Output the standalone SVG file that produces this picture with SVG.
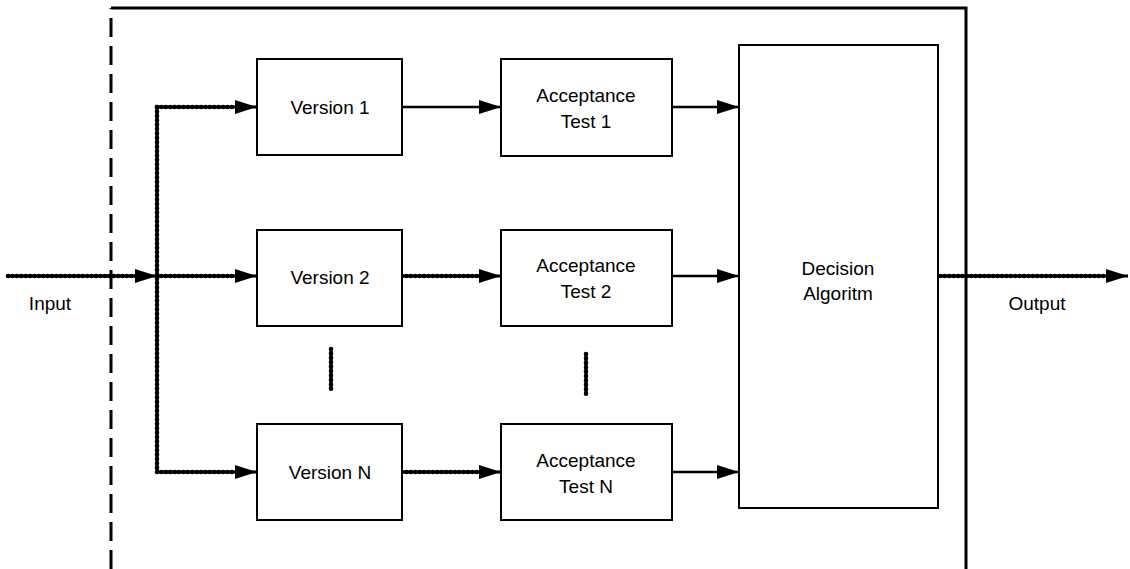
<svg xmlns="http://www.w3.org/2000/svg" xmlns:xlink="http://www.w3.org/1999/xlink" width="1130" height="569" viewBox="0 0 1130 569">
  <style>
    .box { fill: #fff; stroke: #000; stroke-width: 2; }
    .lbl { font-family: "Liberation Sans", Arial, sans-serif; font-size: 19px; fill: #000; text-anchor: middle; }
    .solid { fill: none; stroke: #000; stroke-width: 2.5; }
    .core { fill: none; stroke: #000; stroke-width: 3; }
    .beads { fill: none; stroke: #000; stroke-width: 4.6; stroke-linecap: round; stroke-dasharray: 0.1 4.3; }
    .frame { fill: none; stroke: #000; stroke-width: 3; }
  </style>
  <defs>
    <marker id="arrow" markerUnits="userSpaceOnUse" markerWidth="22" markerHeight="14" refX="22" refY="7" orient="auto">
      <path d="M0,0 L22,7 L0,14 Z" fill="#000"/>
    </marker>
    <!-- dotted routes, drawn twice: a thin core line and a bead overlay -->
    <path id="inLine" d="M8,276 H157"/>
    <path id="split" d="M157,107 V472"/>
    <path id="toV1" d="M157,107 H257"/>
    <path id="toV2" d="M157,276 H257"/>
    <path id="toVN" d="M157,472 H257"/>
    <path id="v2a2" d="M402,276 H501"/>
    <path id="vNaN" d="M402,472 H501"/>
    <path id="outLine" d="M938,276 H1128"/>
  </defs>

  <!-- enclosing system boundary, open at the bottom -->
  <g id="frame">
    <path class="frame" d="M111,569 V8" stroke-dasharray="19 9"/>
    <path class="frame" d="M111,8 H966 V569"/>
  </g>

  <g id="connectors">
    <!-- core strokes with arrowheads -->
    <use xlink:href="#inLine" class="core" marker-end="url(#arrow)"/>
    <use xlink:href="#split" class="core"/>
    <use xlink:href="#toV1" class="core" marker-end="url(#arrow)"/>
    <use xlink:href="#toV2" class="core" marker-end="url(#arrow)"/>
    <use xlink:href="#toVN" class="core" marker-end="url(#arrow)"/>
    <use xlink:href="#v2a2" class="core" marker-end="url(#arrow)"/>
    <use xlink:href="#vNaN" class="core" marker-end="url(#arrow)"/>
    <use xlink:href="#outLine" class="core" marker-end="url(#arrow)"/>
    <!-- bead overlays stop short of each arrowhead -->
    <path class="beads" d="M8,276 H136"/>
    <path class="beads" d="M157,107 V472"/>
    <path class="beads" d="M157,107 H236"/>
    <path class="beads" d="M157,276 H236"/>
    <path class="beads" d="M157,472 H236"/>
    <path class="beads" d="M402,276 H480"/>
    <path class="beads" d="M402,472 H480"/>
    <path class="beads" d="M936,276 H1107"/>
    <!-- solid links -->
    <path class="solid" d="M402,107 H501" marker-end="url(#arrow)"/>
    <path class="solid" d="M672,107 H739" marker-end="url(#arrow)"/>
    <path class="solid" d="M672,276 H739" marker-end="url(#arrow)"/>
    <path class="solid" d="M672,472 H739" marker-end="url(#arrow)"/>
    <!-- ellipsis marks between rows -->
    <path class="beads" d="M331,349 V389"/>
    <path class="core" d="M331,349 V389"/>
    <path class="beads" d="M586,354 V394"/>
    <path class="core" d="M586,354 V394"/>
  </g>

  <g id="version1">
    <rect class="box" x="257" y="59" width="145" height="96"/>
    <text class="lbl" x="330" y="114">Version 1</text>
  </g>
  <g id="version2">
    <rect class="box" x="257" y="230" width="145" height="96"/>
    <text class="lbl" x="330" y="284">Version 2</text>
  </g>
  <g id="versionN">
    <rect class="box" x="257" y="424" width="145" height="96"/>
    <text class="lbl" x="330" y="479">Version N</text>
  </g>

  <g id="test1">
    <rect class="box" x="501" y="59" width="171" height="97"/>
    <text class="lbl" x="586" y="102">Acceptance</text>
    <text class="lbl" x="586" y="128">Test 1</text>
  </g>
  <g id="test2">
    <rect class="box" x="501" y="230" width="171" height="96"/>
    <text class="lbl" x="586" y="272">Acceptance</text>
    <text class="lbl" x="586" y="298">Test 2</text>
  </g>
  <g id="testN">
    <rect class="box" x="501" y="424" width="171" height="96"/>
    <text class="lbl" x="586" y="467">Acceptance</text>
    <text class="lbl" x="586" y="493">Test N</text>
  </g>

  <g id="decision">
    <rect class="box" x="739" y="45" width="199" height="463"/>
    <text class="lbl" x="838" y="275">Decision</text>
    <text class="lbl" x="838" y="300">Algoritm</text>
  </g>

  <g id="input">
    <text class="lbl" x="50" y="310">Input</text>
  </g>
  <g id="output">
    <text class="lbl" x="1037" y="310">Output</text>
  </g>
</svg>
